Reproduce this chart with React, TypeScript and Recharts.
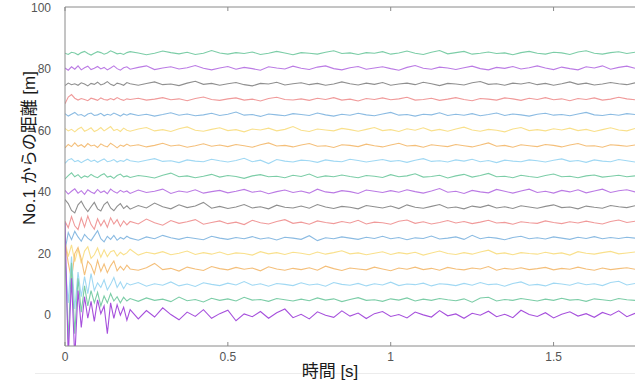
import React from 'react'
import { LineChart, Line, XAxis, YAxis, Label } from 'recharts'

// time axis [s]: fine steps during the start-up transient, then 0.025 s
const time = [
  0, 0.01, 0.02, 0.03, 0.04, 0.05, 0.06, 0.07, 0.08, 0.09, 0.1, 0.11, 0.12, 0.13, 0.14, 0.15, 0.16, 0.17, 0.18, 0.19, 0.2,
  0.225, 0.25, 0.275, 0.3, 0.325, 0.35, 0.375, 0.4, 0.425, 0.45,
  0.475, 0.5, 0.525, 0.55, 0.575, 0.6, 0.625, 0.65, 0.675, 0.7,
  0.725, 0.75, 0.775, 0.8, 0.825, 0.85, 0.875, 0.9, 0.925, 0.95,
  0.975, 1, 1.025, 1.05, 1.075, 1.1, 1.125, 1.15, 1.175, 1.2,
  1.225, 1.25, 1.275, 1.3, 1.325, 1.35, 1.375, 1.4, 1.425, 1.45,
  1.475, 1.5, 1.525, 1.55, 1.575, 1.6, 1.625, 1.65, 1.675, 1.7,
  1.725, 1.75,
]

const xTicks = [0, 0.5, 1, 1.5]
const yTicks = [0, 20, 40, 60, 80, 100]

// distance from car No.1 [m], one array per following car
const car2 = [
  30.0, -14.0, 12.0, -14.0, 8.0, -4.0, 6.0, -1.0, 4.5, -2.0, 5.0, 0.5, 3.0, -6.0, 4.0, -1.0, 3.4, 0.0, 2.6, -1.6, 1.8,
  -1.2, 1.5, -0.6, 2.4, 0.2, -1.5, 1.0, -0.4, 1.8, -1.0,
  0.5, 1.6, -1.8, 0.4, -0.5, 1.2, -1.0, 0.8, 2.0, -0.8,
  0.3, -1.2, 1.1, 0.0, -0.7, 1.4, -0.3, 0.7, -1.1, 0.5,
  1.2, -0.4, 0.2, -0.9, 1.0, 0.1, -0.6, 1.5, -0.2, 0.4,
  -1.0, 0.6, 0.0, 1.3, -0.5, 0.3, -0.8, 1.6, 0.2, -0.4,
  0.8, -0.9, 0.3, 1.1, -0.3, 0.5, -0.7, 0.9, 0.0, 1.4,
  -0.5, 0.6,
]
const car3 = [
  20.0, -8.0, 17.0, -6.0, 12.0, 1.0, 9.5, 3.0, 8.0, 4.0, 7.4, 3.0, 6.2, 4.0, 7.0, 4.6, 6.0, 4.0, 5.8, 4.6, 5.4,
  4.5, 5.6, 4.8, 5.2, 4.4, 5.9, 4.7, 5.1, 4.3, 5.5,
  4.8, 5.3, 4.6, 5.8, 4.9, 5.1, 4.5, 5.4, 5.0, 4.6,
  5.2, 4.7, 5.6, 4.9, 5.3, 4.4, 5.1, 5.7, 4.8, 5.0,
  4.5, 5.3, 4.9, 5.6, 4.6, 5.2, 4.8, 5.4, 5.0, 4.7,
  5.3, 4.2, 5.6, 5.8, 4.6, 5.1, 4.8, 5.4, 5.0, 4.6,
  5.2, 4.8, 5.5, 4.9, 5.1, 4.5, 5.3, 5.0, 4.7, 5.4,
  5.0, 4.8,
]
const car4 = [
  18.0, 4.0, 19.0, 2.0, 14.0, 6.0, 12.5, 7.0, 13.5, 8.0, 10.5, 9.0, 11.5, 8.2, 10.0, 12.2, 9.0, 10.8, 8.6, 10.4, 9.8,
  10.6, 9.4, 10.2, 9.7, 10.8, 9.5, 10.1, 9.3, 10.5, 10.0,
  9.6, 10.4, 9.8, 10.9, 9.7, 10.2, 9.4, 10.3, 10.0, 9.6,
  10.5, 9.8, 10.1, 9.4, 10.6, 10.0, 9.7, 10.3, 9.5, 10.2,
  9.8, 10.7, 9.6, 10.1, 9.9, 10.4, 9.5, 10.2, 10.0, 9.6,
  10.3, 9.7, 10.6, 9.9, 10.1, 9.4, 10.3, 10.8, 9.7, 10.0,
  9.5, 10.4, 10.1, 9.7, 10.5, 9.9, 10.2, 9.6, 10.6, 11.0,
  9.8, 10.3,
]
const car5 = [
  23.5, 17.0, 11.5, 20.0, 22.0, 18.2, 13.0, 17.5, 16.2, 13.4, 17.8, 14.2, 16.6, 13.8, 16.0, 17.6, 14.4, 15.8, 14.6, 16.2, 15.0,
  14.6, 15.4, 16.8, 14.8, 15.2, 14.3, 15.6, 15.0, 14.5, 15.8,
  15.1, 14.7, 15.5, 14.9, 15.3, 14.4, 15.7, 15.0, 14.6, 15.2,
  14.8, 15.4, 14.6, 15.9, 15.1, 14.5, 15.3, 15.0, 14.7, 15.6,
  15.0, 14.4, 15.3, 14.9, 15.6, 14.8, 15.2, 14.6, 15.5, 15.0,
  14.7, 15.3, 15.0, 15.8, 14.6, 15.2, 14.9, 15.4, 14.8, 15.1,
  15.5, 14.7, 15.2, 14.9, 15.6, 15.0, 14.6, 15.3, 14.8, 15.1,
  15.4, 14.9,
]
const car6 = [
  24.0, 19.0, 22.8, 17.4, 21.6, 16.8, 20.8, 22.2, 18.4, 19.6, 21.8, 18.8, 21.2, 19.0, 20.6, 21.0, 19.2, 20.4, 19.6, 20.2, 21.4,
  19.5, 20.4, 19.9, 20.6, 19.6, 20.1, 20.8, 19.7, 20.3, 19.8,
  20.5, 19.6, 20.2, 20.0, 19.5, 20.6, 19.9, 20.3, 19.7, 20.4,
  20.1, 19.6, 20.5, 19.8, 20.3, 20.9, 19.9, 20.2, 19.6, 20.1,
  20.6, 19.7, 20.3, 19.9, 20.4, 19.5, 20.2, 20.8, 20.0, 19.7,
  20.3, 19.8, 20.5, 21.1, 19.9, 20.2, 19.6, 20.3, 20.0, 19.8,
  20.4, 19.9, 20.2, 19.5, 20.6, 20.1, 19.8, 20.3, 20.7, 19.9,
  20.2, 20.5,
]
const car7 = [
  21.0, 26.8, 24.5, 27.2, 25.4, 24.0, 26.2, 25.0, 24.2, 25.8, 27.4, 24.8, 23.8, 25.6, 24.6, 25.9, 24.3, 25.2, 24.7, 25.6, 25.0,
  24.3, 25.4, 24.8, 25.9, 25.1, 24.6, 25.3, 24.9, 24.5, 25.6,
  25.0, 24.6, 25.2, 24.8, 25.5, 24.7, 25.1, 24.4, 25.3, 25.0,
  24.6, 25.8, 24.2, 25.1, 24.8, 25.4, 25.0, 24.6, 25.3, 24.9,
  25.6, 24.8, 25.2, 24.5, 25.1, 24.9, 25.7, 24.7, 25.0, 25.4,
  24.6, 25.9, 24.8, 25.3, 25.0, 24.5, 25.2, 25.6, 24.8, 25.1,
  24.7, 25.4, 25.0, 24.6, 25.3, 24.9, 25.5, 24.8, 25.2, 24.9,
  25.3, 25.0,
]
const car8 = [
  30.5, 28.4, 32.0, 29.0, 27.8, 31.6, 28.6, 32.2, 29.4, 27.9, 31.3, 29.0, 30.8, 28.5, 31.6, 29.6, 31.0, 28.8, 30.6, 29.3, 30.4,
  29.6, 31.2, 30.0, 29.2, 30.7, 29.8, 30.3, 31.0, 29.5, 30.1,
  30.6, 29.7, 30.2, 29.4, 30.8, 30.0, 29.6, 30.4, 31.0, 29.8,
  30.2, 29.5, 30.6, 30.1, 29.7, 30.4, 29.9, 30.8, 29.6, 30.2,
  30.0, 29.5, 30.5, 30.9, 29.8, 30.3, 29.6, 30.1, 30.7, 29.9,
  30.4, 29.7, 30.2, 30.8, 29.9, 30.1, 29.5, 30.3, 30.0, 29.8,
  30.6, 30.1, 29.7, 30.3, 29.9, 30.5, 30.0, 29.6, 30.4, 30.9,
  30.1, 30.5,
]
const car9 = [
  37.5, 36.2, 34.0, 33.2, 35.8, 37.0, 35.0, 33.6, 35.2, 36.6, 34.5, 33.8, 35.9, 36.8, 34.8, 33.9, 35.3, 36.2, 34.6, 35.5, 34.4,
  35.6, 34.8, 36.4, 35.2, 34.5, 35.8, 34.9, 35.4, 36.6, 34.7,
  35.3, 34.6, 35.1, 35.9, 34.8, 35.2, 34.5, 35.7, 35.0, 34.8,
  35.4, 34.7, 35.9, 35.1, 34.6, 35.3, 35.0, 34.5, 35.6, 35.2,
  34.8, 35.4, 34.6, 35.8, 35.0, 34.7, 35.3, 35.9, 34.8, 35.1,
  34.5, 35.4, 35.0, 35.7, 34.8, 35.2, 34.6, 35.5, 35.1, 34.7,
  35.3, 35.8, 34.9, 35.1, 34.5, 35.4, 35.0, 34.7, 35.6, 35.2,
  34.9, 35.5,
]
const car10 = [
  40.5, 39.3, 40.2, 41.0, 39.6, 40.4, 39.2, 40.7, 40.0, 39.5, 40.8, 39.8, 40.3, 39.4, 40.9, 40.1, 39.6, 40.5, 39.9, 40.3, 39.5,
  40.6, 39.8, 40.2, 40.9, 39.5, 40.3, 39.9, 40.7, 39.6, 40.1,
  40.5, 39.7, 40.2, 40.8, 39.9, 40.3, 39.4, 40.1, 40.6, 39.8,
  40.3, 39.6, 40.9, 40.0, 39.7, 40.4, 40.1, 39.5, 40.6, 40.2,
  39.8, 40.4, 39.9, 40.7, 40.1, 39.6, 40.3, 41.1, 39.9, 40.2,
  39.5, 40.5, 40.0, 39.7, 40.8, 40.2, 39.6, 40.3, 40.9, 39.8,
  40.2, 39.6, 40.5, 40.0, 40.7, 39.7, 40.3, 40.9, 39.8, 40.4,
  40.7, 40.0,
]
const car11 = [
  44.2, 45.3, 46.2, 44.9, 45.6, 44.5, 45.2, 44.8, 45.7, 45.0, 44.6, 45.4, 45.9, 44.8, 45.1, 44.4, 45.3, 45.8, 44.9, 45.2, 44.7,
  45.3, 45.0, 44.5, 45.4, 46.1, 44.9, 45.2, 44.6, 45.1, 45.7,
  44.8, 45.3, 45.0, 44.4, 45.2, 45.6, 44.9, 45.1, 44.6, 45.4,
  45.0, 45.8, 44.7, 45.2, 44.9, 45.5, 45.0, 44.6, 45.3, 45.1,
  44.7, 45.6, 44.9, 45.2, 45.9, 44.8, 45.0, 45.4, 44.5, 45.2,
  45.7, 44.8, 45.3, 46.0, 44.9, 45.1, 44.6, 45.4, 45.0, 44.7,
  45.3, 45.8, 44.9, 45.1, 44.6, 45.2, 45.5, 44.8, 45.1, 45.4,
  44.9, 45.2,
]
const car12 = [
  49.3, 50.4, 50.8, 49.8, 50.2, 49.5, 50.1, 50.6, 49.9, 50.3, 49.6, 50.2, 50.7, 49.8, 50.0, 50.5, 49.7, 50.2, 49.9, 50.6, 50.1,
  49.7, 50.3, 50.8, 49.9, 50.1, 49.5, 50.4, 50.0, 49.8, 50.6,
  50.1, 49.7, 50.2, 50.9, 49.8, 50.3, 49.2, 50.5, 50.0, 49.7,
  50.3, 50.1, 49.6, 50.4, 50.0, 49.8, 50.6, 50.2, 49.7, 50.1,
  50.5, 49.9, 50.2, 49.6, 50.3, 50.8, 49.9, 50.1, 49.7, 50.4,
  50.0, 50.6, 49.8, 50.2, 49.5, 50.3, 50.0, 49.8, 50.4, 50.1,
  49.7, 50.3, 50.7, 49.9, 50.2, 49.6, 50.4, 50.0, 49.8, 50.5,
  50.1, 49.7,
]
const car13 = [
  54.3, 55.4, 54.7, 55.9, 54.8, 55.3, 54.5, 55.7, 54.9, 55.2, 54.4, 55.6, 55.0, 54.6, 55.8, 55.1, 54.3, 55.2, 54.8, 55.5, 54.9,
  55.3, 54.6, 55.1, 55.8, 54.9, 55.2, 54.5, 55.0, 55.6, 54.8,
  55.2, 54.7, 55.4, 55.0, 54.5, 55.3, 55.9, 54.9, 55.1, 54.6,
  55.2, 55.7, 54.8, 55.0, 54.4, 55.3, 55.1, 54.7, 55.5, 55.0,
  54.6, 55.2, 55.8, 54.9, 55.1, 54.5, 55.3, 55.0, 54.7, 55.4,
  55.0, 54.6, 55.2, 55.9, 54.8, 55.1, 54.5, 55.3, 55.0, 54.7,
  55.4, 55.1, 54.6, 55.2, 55.7, 54.9, 55.0, 54.5, 55.3, 55.1,
  54.8, 55.2,
]
const car14 = [
  60.6, 59.8, 60.3, 59.5, 60.4, 61.0, 59.7, 60.2, 60.8, 59.6, 60.1, 60.9, 59.8, 60.5, 61.2, 59.9, 60.3, 59.6, 60.7, 60.0, 59.7,
  60.4, 60.9, 59.8, 60.2, 59.6, 60.5, 61.1, 60.0, 59.7, 60.3,
  60.8, 59.9, 60.2, 59.5, 60.4, 60.1, 60.7, 59.8, 60.3, 61.2,
  60.0, 59.6, 60.4, 60.1, 59.8, 60.6, 60.2, 59.7, 60.3, 60.9,
  59.9, 60.2, 59.6, 60.5, 60.0, 60.8, 59.8, 60.3, 59.7, 60.4,
  61.0, 60.1, 59.7, 60.3, 60.0, 59.5, 60.4, 60.9, 59.9, 60.2,
  59.8, 60.5, 60.1, 60.7, 59.9, 60.3, 59.6, 60.2, 60.8, 60.1,
  59.8, 60.6,
]
const car15 = [
  65.4, 64.6, 65.2, 65.8, 64.9, 65.1, 64.5, 65.3, 65.6, 64.8, 65.0, 65.5, 64.7, 65.2, 64.9, 65.6, 65.1, 64.6, 65.3, 64.9, 65.4,
  64.8, 65.2, 64.6, 65.1, 65.7, 64.9, 65.3, 64.7, 65.0, 65.5,
  64.8, 65.2, 65.9, 64.9, 65.1, 64.5, 65.3, 65.0, 64.7, 65.4,
  65.1, 64.8, 65.6, 65.0, 64.6, 65.2, 64.9, 65.5, 65.0, 64.7,
  65.3, 65.8, 64.9, 65.1, 64.6, 65.2, 65.0, 65.7, 64.8, 65.2,
  64.9, 65.4, 64.7, 65.1, 65.6, 64.8, 65.3, 65.0, 64.6, 65.2,
  65.5, 64.9, 65.1, 64.7, 65.3, 65.8, 65.0, 64.8, 65.2, 64.9,
  65.4, 65.1,
]
const car16 = [
  68.6, 70.8, 71.6, 70.4, 69.8, 70.3, 70.0, 69.6, 70.4, 70.1, 69.7, 70.5, 70.0, 69.8, 70.3, 69.9, 70.6, 70.1, 69.7, 70.2, 70.0,
  70.4, 69.8, 70.1, 70.6, 69.9, 70.2, 69.6, 70.3, 70.8, 70.0,
  69.7, 70.2, 70.5, 69.8, 70.1, 69.5, 70.3, 70.7, 70.0, 69.8,
  70.2, 69.7, 70.4, 70.0, 70.6, 69.8, 70.1, 69.5, 70.3, 70.0,
  70.5, 69.9, 70.2, 70.7, 69.8, 70.0, 70.4, 69.7, 70.1, 70.6,
  70.0, 69.6, 70.3, 70.1, 69.8, 70.5, 70.2, 69.7, 70.4, 70.0,
  70.6, 69.9, 70.2, 69.6, 70.3, 70.0, 70.5, 69.8, 70.1, 70.7,
  70.2, 69.9,
]
const car17 = [
  74.5, 75.3, 74.8, 75.1, 74.6, 75.4, 75.0, 74.4, 75.2, 74.9, 75.6, 74.7, 75.1, 75.8, 74.9, 74.5, 75.3, 75.0, 74.6, 75.5, 75.1,
  74.6, 75.2, 75.7, 74.8, 75.0, 74.5, 75.3, 75.9, 74.9, 75.2,
  74.6, 75.1, 75.5, 74.8, 74.4, 75.2, 75.0, 75.6, 74.7, 75.1,
  75.4, 74.8, 75.2, 74.6, 75.0, 75.7, 75.1, 74.7, 75.3, 74.9,
  75.5, 74.6, 75.0, 75.3, 74.8, 75.6, 75.1, 74.5, 75.2, 75.0,
  74.7, 75.4, 75.8, 74.9, 75.1, 74.6, 75.3, 75.0, 75.5, 74.8,
  75.2, 74.6, 75.1, 75.7, 74.9, 75.3, 74.7, 75.0, 75.5, 75.1,
  74.8, 75.4,
]
const car18 = [
  80.2, 79.5, 80.6, 79.8, 80.9, 79.6, 80.3, 80.8, 79.7, 80.1, 80.7, 79.9, 80.4, 79.6, 80.2, 80.9, 80.0, 79.5, 80.3, 80.6, 79.8,
  80.4, 80.9, 79.7, 80.2, 80.6, 79.9, 80.3, 81.0, 80.1, 79.6,
  80.2, 80.7, 79.8, 80.4, 80.0, 79.5, 80.6, 80.2, 79.9, 80.8,
  80.1, 79.7, 80.5, 80.9, 80.0, 79.6, 80.3, 80.7, 79.8, 80.2,
  80.6, 80.0, 79.5, 80.4, 81.0, 80.1, 79.8, 80.5, 80.2, 79.7,
  80.3, 80.8, 80.0, 79.6, 80.4, 80.1, 80.7, 79.9, 80.3, 80.9,
  80.2, 79.7, 80.5, 80.0, 79.6, 80.6, 80.2, 80.9, 79.8, 80.4,
  80.8, 80.1,
]
const car19 = [
  85.0, 84.6, 85.3, 85.1, 84.5, 85.2, 85.6, 84.9, 84.4, 85.0, 85.5, 85.2, 84.7, 85.1, 85.8, 85.3, 84.8, 85.0, 84.6, 85.2, 85.5,
  85.1, 84.5, 85.0, 85.7, 85.2, 84.8, 85.3, 84.6, 85.0, 85.9,
  85.1, 84.7, 85.2, 84.9, 85.4, 84.6, 85.0, 85.6, 85.1, 84.5,
  85.2, 85.0, 84.7, 85.3, 85.8, 84.9, 85.1, 84.6, 85.2, 85.0,
  85.5, 84.7, 85.1, 85.7, 85.0, 84.6, 85.3, 85.9, 84.8, 85.2,
  85.6, 84.7, 85.0, 85.4, 84.9, 85.1, 84.5, 85.2, 85.6, 85.0,
  84.7, 85.3, 85.1, 84.6, 85.4, 85.8, 85.0, 84.7, 85.2, 85.5,
  84.9, 85.3,
]

const series = [
  car2, car3, car4, car5, car6, car7, car8, car9, car10,
  car11, car12, car13, car14, car15, car16, car17, car18, car19,
]

const palette = [
  '#bb7be4', // purple
  '#7ccda7', // green
  '#a0d8f3', // light blue
  '#f4bf7a', // orange
  '#f9e08c', // yellow
  '#8bbbe2', // blue
  '#f09a9a', // red
  '#8f8f8f', // gray
]

const data = time.map((t, i) => {
  const row: Record<string, number> = { t }
  series.forEach((s, k) => {
    row[`s${k}`] = s[i]
  })
  return row
})

const font = '"Liberation Sans", Arial, "Noto Sans CJK JP", sans-serif'
const axisColor = '#8a8a8a'
const tickStyle = { fontSize: 12, fill: '#555', fontFamily: font }

export default function App() {
  return (
    <div
      style={{
        position: 'absolute',
        left: 0,
        top: 0,
        width: 635,
        height: 380,
        background: '#fff',
        fontFamily: font,
      }}
    >
      <div
        style={{
          position: 'absolute',
          left: 35,
          top: 373,
          width: 600,
          height: 1,
          background: '#ececec',
        }}
      />
      <LineChart
        width={635}
        height={380}
        data={data}
        margin={{ top: 6, right: 0, bottom: 0, left: 0 }}
        style={{ position: 'absolute', left: 0, top: 0 }}
      >
        <XAxis
          xAxisId="top"
          orientation="top"
          type="number"
          dataKey="t"
          domain={[0, 1.75]}
          ticks={xTicks}
          allowDataOverflow
          height={1}
          tickSize={-4}
          tickFormatter={() => ''}
          stroke={axisColor}
          axisLine={{ stroke: axisColor }}
          tickLine={{ stroke: axisColor }}
        />
        <XAxis
          type="number"
          dataKey="t"
          domain={[0, 1.75]}
          ticks={xTicks}
          allowDataOverflow
          height={34}
          tickSize={-4}
          tickMargin={10}
          tick={tickStyle}
          axisLine={{ stroke: axisColor }}
          tickLine={{ stroke: axisColor }}
        >
          <Label
            value="時間  [s]"
            position="insideBottom"
            offset={3}
            dx={-20}
            style={{ fontSize: 17, fill: '#1a1a1a', fontFamily: font }}
          />
        </XAxis>
        <YAxis
          domain={[-10, 100]}
          ticks={yTicks}
          allowDataOverflow
          width={65}
          tickLine={false}
          tickMargin={8}
          tick={tickStyle}
          axisLine={{ stroke: axisColor }}
        >
          <Label
            content={() => (
              <text
                x={29}
                y={148}
                transform="rotate(-90 29 148)"
                textAnchor="middle"
                dominantBaseline="central"
                fontSize={17}
                fill="#1a1a1a"
                fontFamily={font}
              >
                No.1 からの距離  [m]
              </text>
            )}
          />
        </YAxis>
        {series
          .map((_, k) => (
            <Line
              key={k}
              type="linear"
              dataKey={`s${k}`}
              stroke={k === 0 ? '#a650dc' : palette[k % palette.length]}
              strokeWidth={1.1}
              dot={false}
              activeDot={false}
              isAnimationActive={false}
            />
          ))
          .reverse()}
      </LineChart>
    </div>
  )
}
